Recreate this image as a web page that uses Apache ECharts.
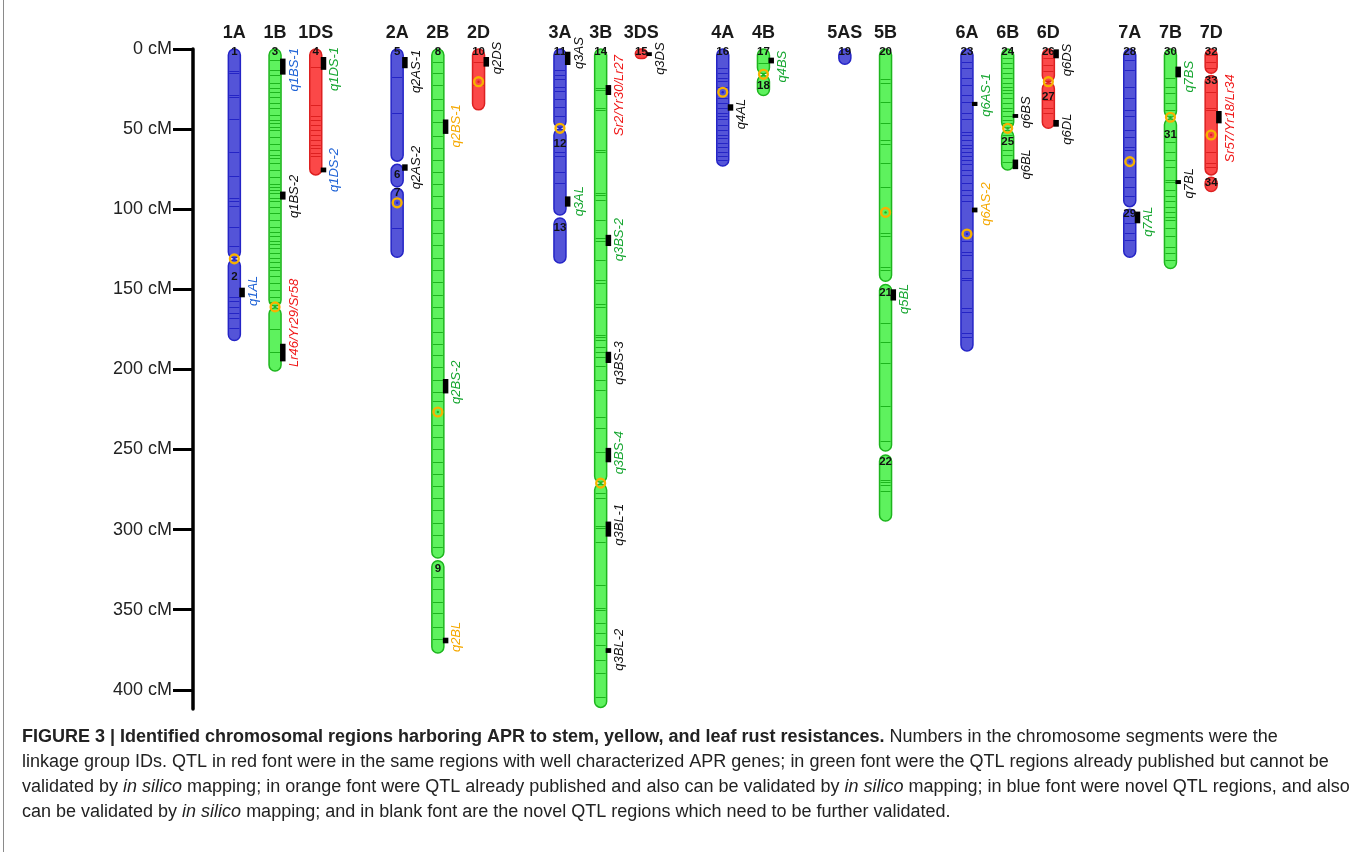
<!DOCTYPE html>
<html><head><meta charset="utf-8">
<script src="https://cdn.jsdelivr.net/npm/echarts@6/dist/echarts.min.js"></script>
<style>html,body{margin:0;padding:0;background:#fff;}#c{width:1355px;height:852px;}</style>
</head><body><div id="c"></div>
<script>
// ---------------- data ----------------
const groups = [['1A','1B','1DS'],['2A','2B','2D'],['3A','3B','3DS'],['4A','4B'],['5AS','5B'],['6A','6B','6D'],['7A','7B','7D']];
const yTicks = [0,50,100,150,200,250,300,350,400];
// [chromosome, start cM, end cM, linkage group id, id label position cM]
const segments = [
 ['1A',0,130.5,'1',2],['1A',131.5,182,'2',142],
 ['1B',0,160.5,'3',2],['1B',161.5,201,'',0],
 ['1DS',0,78.6,'4',2],
 ['2A',0,70,'5',2],['2A',72,86,'6',78.6],['2A',87,130,'7',90],
 ['2B',0,317.7,'8',2],['2B',319.4,377,'9',324.6],
 ['2D',0,38,'10',2],
 ['3A',0,49,'11',2],['3A',50,103.6,'12',59],['3A',105.5,133.6,'13',111.7],
 ['3B',0,270.5,'14',2],['3B',271.5,411,'',0],
 ['3DS',0,6,'15',2],
 ['4A',0,73,'16',2],
 ['4B',0,15.5,'17',2],['4B',16.5,29,'18',23],
 ['5AS',0,9.5,'19',2],
 ['5B',0,145,'20',2],['5B',147,251,'21',152],['5B',253.4,294.6,'22',257.8],
 ['6A',0,188.5,'23',2],
 ['6B',0,49.5,'24',2],['6B',50.5,75.5,'25',57.8],
 ['6D',0,20.4,'26',2],['6D',21,49.5,'27',29.7],
 ['7A',0,98.4,'28',2],['7A',100,130,'29',102.6],
 ['7B',0,42.6,'30',2],['7B',43.5,137,'31',53.7],
 ['7D',0,15.2,'32',2],['7D',16.5,78.6,'33',20],['7D',80,89,'34',83.4]
];
// orange rings [chromosome, cM]
const rings = [['1A',131],['1B',161],['2A',96],['2B',226.6],['2D',20.4],['3A',49.5],['3B',271],['4A',27],['4B',15.8],['5B',102],['6A',115.5],['6B',49.5],['6D',20.4],['7A',70.3],['7B',42.6],['7D',53.7]];
// QTL [chromosome, start, end, name, label centre cM, font colour]
const qtls = [
 ['1A',149,155,'q1AL',151,'blue'],
 ['1B',6,16,'q1BS-1',13,'blue'],['1B',89,94,'q1BS-2',92,'black'],['1B',184,195,'Lr46/Yr29/Sr58',171,'red'],
 ['1DS',5,13,'q1DS-1',12.5,'green'],['1DS',74,77,'q1DS-2',75.5,'blue'],
 ['2A',5,12,'q2AS-1',14,'black'],['2A',72,76,'q2AS-2',74,'black'],
 ['2B',44,53,'q2BS-1',48,'orange'],['2B',206,215,'q2BS-2',208,'green'],['2B',367.5,371,'q2BL',367,'orange'],
 ['2D',5,11,'q2DS',5.6,'black'],
 ['3A',1.7,10,'q3AS',2.5,'black'],['3A',92,98.4,'q3AL',95,'green'],
 ['3B',22.5,28.7,'Sr2/Yr30/Lr27',29,'red'],['3B',116,123,'q3BS-2',119,'green'],['3B',189,196,'q3BS-3',196,'black'],
 ['3B',249,258,'q3BS-4',252,'green'],['3B',295,304.4,'q3BL-1',297,'black'],['3B',374,377,'q3BL-2',375,'black'],
 ['3DS',2,4.4,'q3DS',6,'black'],
 ['4A',34.5,38.5,'q4AL',40.6,'black'],
 ['4B',5.4,9,'q4BS',11,'green'],
 ['5B',150,157,'q5BL',156,'green'],
 ['6A',33,35.6,'q6AS-1',28.7,'green'],['6A',99,102,'q6AS-2',96.8,'orange'],
 ['6B',40.6,43,'q6BS',39.5,'black'],['6B',69,75,'q6BL',72,'black'],
 ['6D',0.2,5.8,'q6DS',6.9,'black'],['6D',44.3,48.5,'q6DL',50,'black'],
 ['7A',101.5,108.8,'q7AL',107.8,'green'],
 ['7B',11,17.7,'q7BS',17.3,'green'],['7B',81.8,84.3,'q7BL',83.8,'black'],
 ['7D',38.7,46.4,'Sr57/Yr18/Lr34',43.3,'red']
];
// marker positions (cM) per chromosome
const m1A = [14,15,29,30,44,64,79,93,95,98,111,123,155,157,161,165,168,174];
const m1B = [7,13,16,21.4,24.5,26.6,29.8,34,37,41,44.3,46.4,48.5,50.6,55,59,63,66,68,71.3,75.5,79.7,84,86,88,90,93,95,98.4,102.6,106.7,111,114,117,120,122,124.4,127.5,130.7,132.8,135.9,138,142,146,150.5,154.6,157.7,175,189];
const m1DS = [11,35,42,44.3,47.4,50.6,53.7,56.8,60,62,65,67];
const m2A = [17.3,40,112];
const m2B = [8,15,22.5,31,38,45.5,54,62,69,77,84,92,99.5,107,115,122.5,130.5,138,145.5,153.5,161,168,176.5,184,191,198.5,206.5,214,220,235,242,249.5,257.5,265,273,280.5,288,296,303.5,311,329.5,337,345,352,360.5,368];
const m2D = [8,22.5];
const m3A = [13,16,19,23.5,26.5,31,36,42,64,67,76.6,83.6];
const m3B = [24.5,25.6,37,38,63,64,90,91,94,106.7,118,120,131.7,144,146,159,161,178.5,179.6,181.6,186,189,192,198,206.6,213,229.5,236.8,251.4,277.4,280.5,298,299,307.5,334.6,349,350,358.5,364.7,372,381.4,389.7,404.3];
const m4A = [12,15,18,20,23.5,30.6,33.7,37,40,42,44,47.5,50.6,53.7,55.6,58.7,61,64,67,69];
const m4B = [9];
const m5B = [19,21,33,46,57,59,71,86,115,116.5,136,138,171,183,196,223,245,269,270,272,276];
const m6A = [8,12,18,22.5,28.7,33,40,44,51.6,53.7,57,60,62,64,67,69,72,75.6,78.7,83.6,88,91,95,120,126.5,128.6,138,143,144,161.7,164,177,179.6];
const m6B = [5.8,9,12,15,18.3,21.4,23.5,25.6,27.7,30.8,34,37,39,42,44.3,46.4,53.7,63,66,70.4];
const m6D = [5.8,10,14,31.8,37,40];
const m7A = [7,13,23.5,30.8,38,42,50.6,54.7,61,63,79.7,86,92,108.8,115,119.2];
const m7B = [18.3,23.5,27.7,34,38,58,64,69.3,73.5,81.8,82.8,88,92,95,98.4,101.5,104.7,106.7,112,117,123.4,127.5,131.7];
const m7D = [3.7,8,12,26.6,37,38,64,71.4,73.5];
const markerLists = {'1A':m1A,'1B':m1B,'1DS':m1DS,'2A':m2A,'2B':m2B,'2D':m2D,'3A':m3A,'3B':m3B,'4A':m4A,'4B':m4B,'5B':m5B,'6A':m6A,'6B':m6B,'6D':m6D,'7A':m7A,'7B':m7B,'7D':m7D};
const captionLines = [
 '{b|FIGURE 3 | Identified chromosomal regions harboring APR to stem, yellow, and leaf rust resistances.} Numbers in the chromosome segments were the',
 'linkage group IDs. QTL in red font were in the same regions with well characterized APR genes; in green font were the QTL regions already published but cannot be',
 'validated by {i|in silico} mapping; in orange font were QTL already published and also can be validated by {i|in silico} mapping; in blue font were novel QTL regions, and also',
 'can be validated by {i|in silico} mapping; and in blank font are the novel QTL regions which need to be further validated.'
];

// ---------------- styling / helpers ----------------
const FONT = "'Liberation Sans', Arial, Helvetica, sans-serif";
const CAP = 18;
const palette = {A:{fill:'#5454d8',stroke:'#2424c6'}, B:{fill:'#5ef25e',stroke:'#1db51d'}, D:{fill:'#fb4848',stroke:'#dd2020'}};
const textColors = {blue:'#1f63d6', green:'#17a631', orange:'#f5a800', red:'#f01818', black:'#111111'};
const slots = [];
groups.forEach((g,i)=>{ g.forEach(c=>slots.push(c)); if(i<groups.length-1) slots.push(' '.repeat(i+1)); });
const slotOf = c => slots.indexOf(c);
const colOf = c => palette[c[1]];
const BW = 12;

const markerData = [];
Object.keys(markerLists).forEach(c => markerLists[c].forEach(v => markerData.push([slotOf(c), v, c])));
const numberSegs = segments.filter(s => s[3] !== '');

const captionGraphics = captionLines.map((ln,i)=>({
  type:'text', left:22, top:728 + i*25, silent:true,
  style:{text:ln, fill:'#222', fontSize:CAP, fontFamily:FONT,
    rich:{b:{fontWeight:'bold', fontSize:CAP, fontFamily:FONT, fill:'#222'}, i:{fontStyle:'italic', fontSize:CAP, fontFamily:FONT, fill:'#222'}}}
}));
captionGraphics.push({type:'line', silent:true, shape:{x1:3.5, y1:0, x2:3.5, y2:852}, style:{stroke:'#8a8a8a', lineWidth:1}});

const chart = echarts.init(document.getElementById('c'), null, {renderer:'canvas'});
chart.setOption({
  animation:false,
  backgroundColor:'#ffffff',
  grid:{left:214, top:49, width:1017.5, height:660},
  xAxis:{type:'category', position:'top', data:slots, boundaryGap:true,
    axisLine:{show:false}, axisTick:{show:false}, splitLine:{show:false},
    axisLabel:{interval:0, margin:7, fontSize:18, fontWeight:'bold', color:'#1a1a1a', fontFamily:FONT}},
  yAxis:{type:'value', inverse:true, min:0, max:412, offset:21,
    splitLine:{show:false},
    axisLine:{show:true, lineStyle:{color:'#000', width:3.5}},
    axisTick:{show:true, length:20, customValues:yTicks, lineStyle:{color:'#000', width:3}},
    axisLabel:{customValues:yTicks, formatter:v=>v+' cM', margin:21, fontSize:18, color:'#222', fontFamily:FONT, verticalAlign:'middle', padding:[0,0,15,0]}},
  series:[
    { // chromosome segments
      type:'custom', silent:true, z:2,
      data: segments.map(s=>[slotOf(s[0]), s[1], s[2]]),
      encode:{x:0, y:[1,2]},
      renderItem:(params, api)=>{
        const s = segments[params.dataIndex]; const col = colOf(s[0]);
        const p0 = api.coord([api.value(0), api.value(1)]);
        const p1 = api.coord([api.value(0), api.value(2)]);
        return {type:'rect', shape:{x:p0[0]-BW/2, y:p0[1], width:BW, height:p1[1]-p0[1], r:BW/2},
          style:{fill:col.fill, stroke:col.stroke, lineWidth:1.5}};
      }
    },
    { // marker lines
      type:'custom', silent:true, z:3,
      data: markerData.map(d=>[d[0], d[1]]),
      encode:{x:0, y:1},
      renderItem:(params, api)=>{
        const c = markerData[params.dataIndex][2]; const col = colOf(c);
        const p = api.coord([api.value(0), api.value(1)]);
        const y = Math.round(p[1]) + 0.5;
        return {type:'line', shape:{x1:p[0]-BW/2+1, y1:y, x2:p[0]+BW/2-1, y2:y}, style:{stroke:col.stroke, lineWidth:1}};
      }
    },
    { // QTL blocks and labels
      type:'custom', silent:true, z:4,
      data: qtls.map(q=>[slotOf(q[0]), q[1], q[2], q[4]]),
      encode:{x:0, y:[1,2]},
      renderItem:(params, api)=>{
        const q = qtls[params.dataIndex];
        const p0 = api.coord([api.value(0), api.value(1)]);
        const p1 = api.coord([api.value(0), api.value(2)]);
        const pl = api.coord([api.value(0), api.value(3)]);
        const h = Math.max(p1[1]-p0[1], 3.5);
        return {type:'group', children:[
          {type:'rect', shape:{x:p0[0]+BW/2-1, y:p0[1], width:5.5, height:h}, style:{fill:'#000'}},
          {type:'text', x:p0[0]+19, y:pl[1], rotation:Math.PI/2,
            style:{text:q[3], fill:textColors[q[5]], fontSize:13, fontStyle:'italic', fontFamily:FONT, align:'center', verticalAlign:'middle'}}
        ]};
      }
    },
    { // orange rings
      type:'custom', silent:true, z:5,
      data: rings.map(r=>[slotOf(r[0]), r[1]]),
      encode:{x:0, y:1},
      renderItem:(params, api)=>{
        const col = colOf(rings[params.dataIndex][0]);
        const p = api.coord([api.value(0), api.value(1)]);
        return {type:'group', children:[
          {type:'circle', shape:{cx:p[0], cy:p[1], r:4.4}, style:{fill:'none', stroke:'#f7b200', lineWidth:2.4}},
          {type:'circle', shape:{cx:p[0], cy:p[1], r:1.2}, style:{fill:col.stroke}}
        ]};
      }
    },
    { // linkage group numbers
      type:'custom', silent:true, z:6,
      data: numberSegs.map(s=>[slotOf(s[0]), s[4]]),
      encode:{x:0, y:1},
      renderItem:(params, api)=>{
        const s = numberSegs[params.dataIndex];
        const p = api.coord([api.value(0), api.value(1)]);
        return {type:'text', x:p[0], y:p[1], style:{text:s[3], fill:'#111', fontSize:11.5, fontWeight:'bold', fontFamily:FONT, align:'center', verticalAlign:'middle'}};
      }
    }
  ],
  graphic: captionGraphics
});
</script></body></html>
